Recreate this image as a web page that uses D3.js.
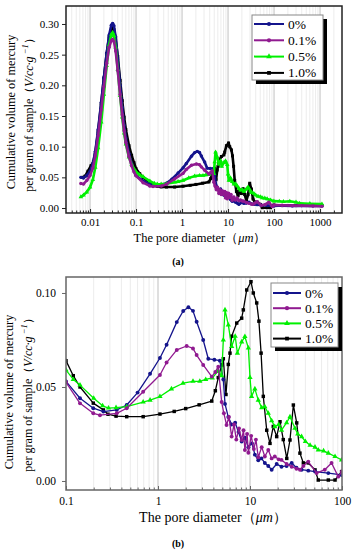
<!DOCTYPE html>
<html>
<head>
<meta charset="utf-8">
<script src="https://cdn.jsdelivr.net/npm/d3@7"></script>
<style>
body { margin: 0; background: #fff; }
svg { display: block; font-family: "Liberation Serif", "Times New Roman", serif; }
</style>
</head>
<body>
<div id="chart"></div>
<script>
// series labels
var names = ["0%", "0.1%", "0.5%", "1.0%"];

// [pore diameter (um), cumulative volume (V/cc.g^-1)]
var s0 = [[0.0063,0.050],[0.0072,0.049],[0.0085,0.053],[0.01,0.060],[0.0115,0.072],[0.013,0.092],[0.015,0.128],[0.0175,0.172],[0.02,0.212],[0.023,0.252],[0.026,0.282],[0.029,0.298],[0.031,0.301],[0.033,0.297],[0.036,0.279],[0.04,0.243],[0.045,0.200],[0.05,0.164],[0.055,0.135],[0.06,0.114],[0.07,0.089],[0.08,0.073],[0.09,0.062],[0.1,0.053],[0.142,0.044],[0.198,0.0387],[0.255,0.0369],[0.356,0.0378],[0.457,0.0404],[0.6,0.047],[0.82,0.057],[1.05,0.0654],[1.24,0.0725],[1.6,0.0845],[1.88,0.0904],[2.14,0.0924],[2.4,0.0905],[2.63,0.0847],[3.1,0.075],[3.52,0.065],[4.1,0.0645],[4.7,0.064],[5.13,0.054],[5.35,0.041],[5.81,0.034],[6.32,0.030],[6.9,0.031],[7.5,0.026],[8.12,0.021],[8.8,0.023],[9.6,0.018],[10.5,0.020],[11.3,0.014],[12.3,0.011],[13.3,0.012],[14.5,0.0096],[15.8,0.008],[17.2,0.006],[19.5,0.009],[22,0.0076],[25,0.008],[28.4,0.0096],[32,0.007],[36.4,0.006],[43,0.0055],[50.9,0.005],[71,0.0042],[99,0.0032],[150,0.004],[250,0.0035],[400,0.004],[700,0.0035],[1100,0.0035]];

var s01 = [[0.0063,0.040],[0.0072,0.039],[0.0085,0.045],[0.01,0.053],[0.0115,0.065],[0.013,0.085],[0.015,0.118],[0.0175,0.160],[0.02,0.198],[0.023,0.236],[0.026,0.262],[0.029,0.273],[0.031,0.275],[0.033,0.272],[0.036,0.256],[0.04,0.224],[0.045,0.185],[0.05,0.152],[0.055,0.126],[0.06,0.107],[0.07,0.084],[0.08,0.069],[0.09,0.059],[0.1,0.0525],[0.142,0.0413],[0.198,0.036],[0.234,0.035],[0.356,0.036],[0.457,0.0387],[0.69,0.0475],[1.05,0.0564],[1.24,0.063],[1.6,0.0697],[2.05,0.0718],[2.4,0.0705],[2.63,0.067],[3.1,0.0617],[3.84,0.0555],[4.2,0.058],[4.52,0.0608],[4.92,0.042],[5.2,0.036],[5.56,0.0298],[5.9,0.034],[6.32,0.0236],[6.7,0.030],[7.1,0.022],[7.6,0.028],[8.12,0.0218],[8.5,0.027],[8.8,0.0165],[9.3,0.025],[9.6,0.015],[10.3,0.024],[11,0.017],[11.6,0.022],[12.3,0.0126],[13.4,0.018],[14.5,0.013],[15.8,0.0165],[17.2,0.012],[18.6,0.013],[20.5,0.0115],[22,0.0112],[25,0.009],[28.4,0.0076],[32,0.0065],[34.9,0.006],[38,0.008],[43,0.0103],[53,0.0042],[65,0.006],[77,0.0096],[91,0.0023],[100,0.005],[150,0.0045],[250,0.004],[400,0.004],[700,0.0035],[1100,0.003]];

var s05 = [[0.0063,0.018],[0.0072,0.021],[0.0085,0.026],[0.01,0.034],[0.0115,0.046],[0.013,0.066],[0.015,0.098],[0.0175,0.140],[0.02,0.185],[0.023,0.232],[0.026,0.266],[0.029,0.283],[0.031,0.286],[0.033,0.281],[0.036,0.262],[0.04,0.226],[0.045,0.183],[0.05,0.148],[0.055,0.122],[0.06,0.104],[0.07,0.083],[0.08,0.071],[0.09,0.064],[0.1,0.059],[0.12,0.054],[0.142,0.051],[0.2,0.044],[0.25,0.040],[0.29,0.0388],[0.35,0.039],[0.457,0.0395],[0.69,0.042],[0.82,0.043],[1.05,0.0449],[1.4,0.049],[1.87,0.052],[2.4,0.053],[2.85,0.053],[3.3,0.054],[3.9,0.0548],[4.5,0.0585],[4.92,0.056],[5.13,0.075],[5.35,0.091],[5.81,0.083],[6.32,0.0715],[6.9,0.077],[7.3,0.068],[8.12,0.074],[8.8,0.0768],[9.6,0.0707],[10.0,0.055],[10.4,0.0449],[11.3,0.049],[12.3,0.043],[13.4,0.039],[14.5,0.0395],[15.8,0.036],[17.2,0.032],[18.6,0.0289],[20.5,0.030],[22,0.027],[25,0.031],[27.2,0.0342],[30.8,0.028],[33,0.025],[36.4,0.0236],[40,0.021],[45,0.019],[50.9,0.018],[55.2,0.0165],[63,0.016],[71,0.0148],[84,0.013],[99,0.0112],[130,0.011],[160,0.0103],[220,0.011],[300,0.0095],[360,0.0076],[600,0.007],[1100,0.0065]];

var s10 = [[0.0068,0.050],[0.0078,0.052],[0.009,0.060],[0.0105,0.069],[0.0118,0.075],[0.013,0.090],[0.015,0.125],[0.0175,0.170],[0.02,0.212],[0.023,0.252],[0.026,0.279],[0.029,0.292],[0.031,0.294],[0.033,0.291],[0.036,0.277],[0.04,0.247],[0.045,0.208],[0.05,0.175],[0.055,0.148],[0.06,0.128],[0.07,0.102],[0.08,0.086],[0.09,0.074],[0.1,0.064],[0.12,0.056],[0.142,0.050],[0.198,0.0414],[0.255,0.0378],[0.286,0.0355],[0.35,0.0345],[0.457,0.0342],[0.69,0.0342],[1.05,0.0356],[1.5,0.037],[2.0,0.0385],[2.8,0.0405],[3.84,0.0425],[4.2,0.048],[4.52,0.055],[4.92,0.0617],[5.13,0.065],[5.48,0.046],[5.81,0.062],[6.06,0.068],[6.32,0.077],[7.17,0.084],[8.12,0.0866],[8.46,0.091],[9.21,0.1016],[10.25,0.106],[10.86,0.100],[11.83,0.0947],[12.5,0.085],[13.2,0.068],[13.95,0.045],[15.2,0.027],[16.5,0.020],[17.9,0.029],[19.5,0.0236],[21.2,0.0315],[23,0.022],[25.1,0.012],[27.2,0.0218],[29.6,0.0404],[32.2,0.0309],[34.9,0.0148],[38,0.0096],[43,0.0096],[50.9,0.0059],[55.2,0.0005],[71,0.0005],[84,0.0005],[99,0.005],[150,0.004],[300,0.004],[600,0.004],[1100,0.004]];

var allSeries = [s0, s01, s05, s10];

var colors = ["#14148c", "#901a90", "#00f000", "#000000"];
var symbols = [d3.symbolCircle, d3.symbolCircle, d3.symbolTriangle, d3.symbolSquare];
var drawOrder = [3, 0, 2, 1];   // black at the back, purple on top

var ticksA = { x: [0.01, 0.1, 1, 10, 100, 1000], y: [0, 0.05, 0.10, 0.15, 0.20, 0.25, 0.30] };
var ticksB = { x: [0.1, 1, 10, 100], y: [0, 0.05, 0.10] };

var svg = d3.select("#chart").append("svg")
    .attr("width", 355)
    .attr("height", 550);

function minorValues(domain) {
    var out = [];
    var e0 = Math.floor(Math.log10(domain[0])), e1 = Math.ceil(Math.log10(domain[1]));
    for (var e = e0; e <= e1; e++) {
        for (var k = 1; k <= 9; k++) {
            var v = k * Math.pow(10, e);
            if (v >= domain[0] * 1.0001 && v <= domain[1] / 1.0001) out.push({v: v, major: k === 1});
        }
    }
    return out;
}

function drawPanel(p) {
    var x = d3.scaleLog().domain(p.xDomain).range([p.left, p.right]);
    var y = d3.scaleLinear().domain(p.yDomain).range([p.bottom, p.top]);
    var g = svg.append("g");

    g.append("clipPath").attr("id", "clip" + p.id)
        .append("rect")
        .attr("x", p.left).attr("y", p.top)
        .attr("width", p.right - p.left).attr("height", p.bottom - p.top);

    // vertical grid at every log step
    var grid = minorValues(p.xDomain);
    g.append("g").selectAll("line")
        .data(grid)
        .enter().append("line")
        .attr("x1", function(d) { return x(d.v); })
        .attr("x2", function(d) { return x(d.v); })
        .attr("y1", p.top).attr("y2", p.bottom)
        .attr("stroke", function(d) { return d.major ? "#d2d2d2" : "#ececec"; })
        .attr("stroke-width", function(d) { return d.major ? 1.4 : 1; });

    var line = d3.line()
        .x(function(d) { return x(d[0]); })
        .y(function(d) { return y(d[1]); });

    var plot = g.append("g").attr("clip-path", "url(#clip" + p.id + ")");
    drawOrder.forEach(function(i) {
        var s = plot.append("g");
        s.append("path")
            .datum(allSeries[i])
            .attr("d", line)
            .attr("fill", "none")
            .attr("stroke", colors[i])
            .attr("stroke-width", p.lineWidth)
            .attr("stroke-linejoin", "round");
        s.selectAll("path.mk")
            .data(allSeries[i])
            .enter().append("path")
            .attr("class", "mk")
            .attr("d", d3.symbol().type(symbols[i]).size(p.markSize))
            .attr("transform", function(d) { return "translate(" + x(d[0]) + "," + y(d[1]) + ")"; })
            .attr("fill", colors[i]);
    });

    // axes
    var xAxis = g.append("g")
        .attr("transform", "translate(0," + p.bottom + ")")
        .call(d3.axisBottom(x).tickValues(p.ticks.x).tickFormat(d3.format("~g"))
            .tickSizeInner(-4).tickSizeOuter(0).tickPadding(p.xPad));
    g.append("g")
        .attr("transform", "translate(0," + p.bottom + ")")
        .call(d3.axisBottom(x).tickValues(grid.filter(function(d) { return !d.major; }).map(function(d) { return d.v; }))
            .tickFormat("").tickSizeInner(-2.5).tickSizeOuter(0));
    var yAxis = g.append("g")
        .attr("transform", "translate(" + p.left + ",0)")
        .call(d3.axisLeft(y).tickValues(p.ticks.y).tickFormat(d3.format(".2f"))
            .tickSizeInner(4).tickSizeOuter(0).tickPadding(p.yPad));
    g.selectAll(".domain").remove();
    g.selectAll(".tick line").attr("stroke", p.frame);
    [xAxis, yAxis].forEach(function(a) {
        a.attr("font-family", null).attr("font-size", p.tickFont);
        a.selectAll("text").attr("fill", "#000");
    });

    g.append("rect")
        .attr("x", p.left).attr("y", p.top)
        .attr("width", p.right - p.left).attr("height", p.bottom - p.top)
        .attr("fill", "none")
        .attr("stroke", p.frame)
        .attr("stroke-width", 1.5);

    // legend with drop shadow
    var lg = p.legend;
    g.append("rect").attr("x", lg.x + 4).attr("y", lg.y + 4)
        .attr("width", lg.w).attr("height", lg.h).attr("fill", "#000");
    g.append("rect").attr("x", lg.x).attr("y", lg.y)
        .attr("width", lg.w).attr("height", lg.h)
        .attr("fill", "#fff").attr("stroke", "#888").attr("stroke-width", 1);
    names.forEach(function(name, i) {
        var ry = lg.y + lg.first + i * lg.step;
        g.append("line")
            .attr("x1", lg.x + 2).attr("x2", lg.x + 2 + lg.len)
            .attr("y1", ry).attr("y2", ry)
            .attr("stroke", colors[i]).attr("stroke-width", 2);
        g.append("path")
            .attr("d", d3.symbol().type(symbols[i]).size(14))
            .attr("transform", "translate(" + (lg.x + 2 + lg.len / 2) + "," + ry + ")")
            .attr("fill", colors[i]);
        g.append("text")
            .attr("x", lg.x + lg.len + 6).attr("y", ry + 4.5)
            .attr("font-size", lg.font)
            .text(name);
    });

    // axis titles
    g.append("text")
        .attr("transform", "translate(" + p.yl1 + "," + p.ylMid + ") rotate(-90)")
        .attr("text-anchor", "middle")
        .attr("font-size", 12.3)
        .text("Cumulative volume of mercury");
    var yl2 = g.append("text")
        .attr("transform", "translate(" + p.yl2 + "," + p.ylMid + ") rotate(-90)")
        .attr("text-anchor", "middle")
        .attr("font-size", 12);
    yl2.append("tspan").text("per gram of sample（");
    yl2.append("tspan").attr("font-style", "italic").text("V/cc·g");
    yl2.append("tspan").attr("font-style", "italic").attr("font-size", 8.5).attr("dy", -5).text(" −1");
    yl2.append("tspan").attr("dy", 5).text("）");

    var xl = g.append("text")
        .attr("x", p.xlX).attr("y", p.xlY)
        .attr("text-anchor", "middle")
        .attr("font-size", p.xlFont);
    xl.append("tspan").text("The pore diameter（");
    xl.append("tspan").attr("font-style", "italic").text("μm");
    xl.append("tspan").text("）");

    g.append("text")
        .attr("x", 178).attr("y", p.tagY)
        .attr("text-anchor", "middle")
        .attr("font-size", 10)
        .attr("font-weight", "bold")
        .text(p.tag);
}

drawPanel({
    id: "a", left: 66, right: 342, top: 6, bottom: 213,
    xDomain: [0.003, 3000], yDomain: [-0.0081, 0.3293],
    ticks: ticksA, frame: "#222", tickFont: 11, xPad: 5, yPad: 3,
    lineWidth: 2.6, markSize: 9,
    legend: { x: 252, y: 15, w: 71, h: 65, first: 9, step: 16.3, len: 30, font: 13.5 },
    yl1: 15, yl2: 33, ylMid: 112,
    xlX: 200, xlY: 242, xlFont: 12.5,
    tag: "(a)", tagY: 265
});

drawPanel({
    id: "b", left: 66, right: 342, top: 277, bottom: 490,
    xDomain: [0.1, 100], yDomain: [-0.0048, 0.1085],
    ticks: ticksB, frame: "#666", tickFont: 11.5, xPad: 7, yPad: 6,
    lineWidth: 1.3, markSize: 12,
    legend: { x: 271, y: 283, w: 67, h: 64, first: 10, step: 15.2, len: 28, font: 13.5 },
    yl1: 13, yl2: 32, ylMid: 392,
    xlX: 213, xlY: 522, xlFont: 14,
    tag: "(b)", tagY: 547
});
</script>
</body>
</html>
